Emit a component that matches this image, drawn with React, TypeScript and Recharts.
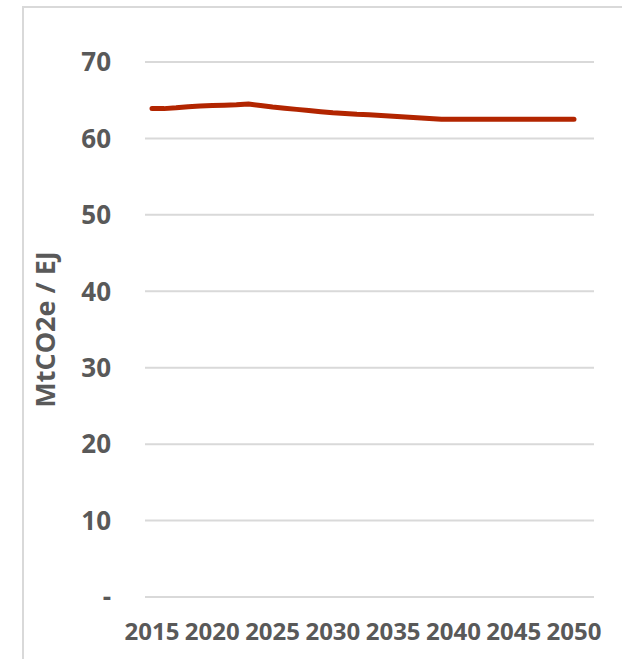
import React from "react";
import { LineChart, Line, XAxis, YAxis, CartesianGrid } from "recharts";

// Emission intensity, MtCO2e per EJ, one point per year
const years: number[] = [
  2015, 2016, 2017, 2018, 2019, 2020, 2021, 2022, 2023, 2024, 2025, 2026,
  2027, 2028, 2029, 2030, 2031, 2032, 2033, 2034, 2035, 2036, 2037, 2038,
  2039, 2040, 2041, 2042, 2043, 2044, 2045, 2046, 2047, 2048, 2049, 2050,
];

const intensity: number[] = [
  63.9, 63.9, 64.0, 64.15, 64.25, 64.3, 64.35, 64.4, 64.5, 64.3, 64.1, 63.95,
  63.8, 63.65, 63.5, 63.35, 63.25, 63.15, 63.1, 63.0, 62.9, 62.8, 62.7, 62.6,
  62.5, 62.5, 62.5, 62.5, 62.5, 62.5, 62.5, 62.5, 62.5, 62.5, 62.5, 62.5,
];

const yTicks: number[] = [0, 10, 20, 30, 40, 50, 60, 70];

const axisTitle = "MtCO2e / EJ";

const data = years.map((year, i) => ({ year, value: intensity[i] }));

const FONT = "'Open Sans', 'Liberation Sans', sans-serif";
const TEXT = "#595959";

export default function App() {
  return (
    <div
      style={{
        position: "absolute",
        left: 0,
        top: 0,
        width: 622,
        height: 659,
        background: "#ffffff",
        overflow: "hidden",
      }}
    >
      <div
        style={{
          position: "absolute",
          left: 22,
          top: 6,
          right: -4,
          bottom: -4,
          borderLeft: "2px solid #d9d9d9",
          borderTop: "2px solid #d9d9d9",
        }}
      />
      <div style={{ position: "absolute", left: 0, top: 0 }}>
        <LineChart
          width={622}
          height={659}
          data={data}
          margin={{ top: 62, right: 28, bottom: 0, left: 0 }}
        >
          <CartesianGrid
            vertical={false}
            stroke="#d9d9d9"
            strokeWidth={2}
          />
          <XAxis
            dataKey="year"
            type="category"
            interval={4}
            height={62}
            axisLine={false}
            tickLine={false}
            tickSize={0}
            tickMargin={26}
            padding={{ left: 7, right: 20 }}
            tick={{
              fill: TEXT,
              fontSize: 24,
              fontWeight: 700,
              fontFamily: FONT,
            }}
          />
          <YAxis
            type="number"
            domain={[0, 70]}
            ticks={yTicks}
            width={145}
            axisLine={false}
            tickLine={false}
            tickSize={0}
            tickMargin={34}
            tickFormatter={(v: number) => (v === 0 ? "-" : String(v))}
            tick={{
              fill: TEXT,
              fontSize: 26,
              fontWeight: 700,
              fontFamily: FONT,
            }}
            label={{
              value: axisTitle,
              angle: -90,
              position: "center",
              dx: -27,
              style: {
                fill: TEXT,
                fontSize: 27,
                fontWeight: 700,
                fontFamily: FONT,
              },
            }}
          />
          <Line
            dataKey="value"
            type="linear"
            stroke="#b22500"
            strokeWidth={5}
            strokeLinecap="round"
            strokeLinejoin="round"
            dot={false}
            activeDot={false}
            isAnimationActive={false}
          />
        </LineChart>
      </div>
    </div>
  );
}
